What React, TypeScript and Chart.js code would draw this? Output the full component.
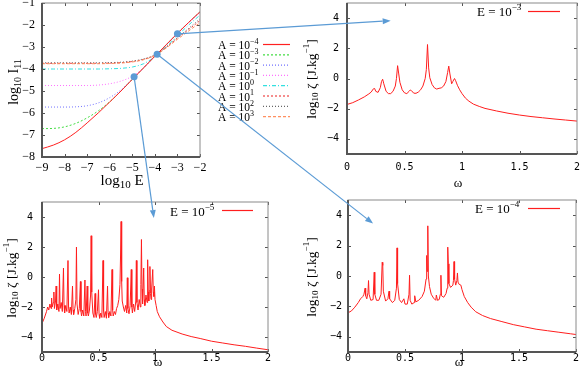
import { useEffect, useRef } from "react";
import { Chart, registerables } from "chart.js";
Chart.register(...registerables);

// ---------------- Panel (a): log10 I11 versus log10 E ----------------
const logE = [-9, -8.5, -8, -7.5, -7, -6.5, -6, -5.5, -5, -4.5, -4, -3.5, -3, -2.5, -2];
const I_Am4 = [-7.62, -7.46, -7.22, -6.88, -6.45, -5.99, -5.5, -5.0, -4.47, -3.95, -3.42, -2.9, -2.38, -1.88, -1.4];
const I_Am3 = [-6.71, -6.7, -6.63, -6.47, -6.22, -5.9, -5.49, -5.0, -4.47, -3.95, -3.42, -2.9, -2.38, -1.88, -1.4];
const I_Am2 = [-5.73, -5.73, -5.73, -5.72, -5.67, -5.54, -5.3, -4.95, -4.46, -3.95, -3.42, -2.9, -2.38, -1.88, -1.42];
const I_Am1 = [-4.75, -4.75, -4.75, -4.75, -4.75, -4.73, -4.67, -4.55, -4.33, -3.95, -3.42, -2.9, -2.39, -1.9, -1.44];
const I_A0 = [-4.0, -4.0, -4.0, -4.0, -4.0, -4.0, -3.99, -3.97, -3.91, -3.76, -3.44, -2.97, -2.48, -2.0, -1.55];
const I_A1 = [-3.74, -3.74, -3.74, -3.74, -3.74, -3.74, -3.73, -3.71, -3.66, -3.56, -3.37, -3.01, -2.6, -2.2, -1.8];
const I_A2 = [-3.72, -3.72, -3.72, -3.72, -3.72, -3.72, -3.71, -3.69, -3.64, -3.54, -3.36, -3.0, -2.57, -2.15, -1.72];
const I_A3 = [-3.76, -3.76, -3.76, -3.76, -3.76, -3.76, -3.75, -3.73, -3.68, -3.58, -3.39, -3.05, -2.65, -2.27, -1.9];
const ampSeries = [I_Am4, I_Am3, I_Am2, I_Am1, I_A0, I_A1, I_A2, I_A3];
const ampExponents = ["−4", "−3", "−2", "−1", "0", "1", "2", "3"];
const xTicksA = [-9, -8, -7, -6, -5, -4, -3, -2];
const yTicksA = [-8, -7, -6, -5, -4, -3, -2, -1];
// marked energies (blue dots) and the spectrum panels they point to
const markedE = [-3, -3.9, -4.92];
const markedI = [-2.4, -3.33, -4.35];
const markedExp = ["−3", "−4", "−5"];

// ---------------- Spectra: log10 zeta versus omega ----------------
const omegaTicks = [0, 0.5, 1, 1.5, 2];
const zetaTicks = [-4, -2, 0, 2, 4];

const spectrumE3: [number, number][] = [
  [0, -1.72], [0.05, -1.6], [0.1, -1.42], [0.15, -1.22], [0.19, -1.02], [0.21, -0.9], [0.23, -0.68], [0.24, -0.66],
  [0.25, -0.85], [0.27, -0.92], [0.29, -0.6], [0.3, -0.2], [0.31, -0.05], [0.32, -0.35], [0.34, -0.85], [0.36, -1.0],
  [0.38, -1.0], [0.4, -0.85], [0.42, -0.5], [0.43, 0.0], [0.44, 0.85], [0.45, 0.3], [0.46, -0.25], [0.48, -0.75],
  [0.5, -0.95], [0.52, -1.0], [0.54, -0.85], [0.55, -0.76], [0.56, -0.8], [0.58, -0.97], [0.6, -0.98], [0.62, -0.9],
  [0.64, -0.75], [0.66, -0.5], [0.68, 0.0], [0.69, 0.6], [0.7, 2.25], [0.71, 0.7], [0.72, 0.05], [0.74, -0.4],
  [0.76, -0.62], [0.78, -0.7], [0.8, -0.65], [0.82, -0.62], [0.84, -0.5], [0.86, -0.2], [0.875, 0.4], [0.885, 0.82],
  [0.895, 0.3], [0.91, -0.35], [0.92, -0.2], [0.935, 0.0], [0.945, -0.15], [0.96, -0.45], [0.98, -0.75], [1.0, -1.0],
  [1.03, -1.3], [1.06, -1.5], [1.1, -1.7], [1.15, -1.85], [1.2, -1.98], [1.3, -2.15], [1.4, -2.3], [1.5, -2.42],
  [1.6, -2.52], [1.7, -2.6], [1.8, -2.68], [1.9, -2.75], [2.0, -2.82],
];

const spectrumE4: [number, number][] = [
  [0, -2.42], [0.03, -2.3], [0.06, -2.05], [0.09, -1.75], [0.11, -1.5], [0.13, -1.35], [0.14, -1.2], [0.15, -0.8],
  [0.155, -1.3], [0.165, -1.5], [0.175, -1.1], [0.18, -0.3], [0.185, -1.2], [0.2, -1.6], [0.22, -1.55], [0.23, 0.25],
  [0.235, -1.2], [0.25, -1.6], [0.27, -1.6], [0.29, -1.2], [0.3, 0.9], [0.305, 0.7], [0.31, -1.0], [0.33, -1.65],
  [0.35, -1.5], [0.36, -1.0], [0.365, -1.5], [0.39, -1.75], [0.41, -1.6], [0.425, -0.8], [0.43, 1.85], [0.435, -0.5],
  [0.45, -1.55], [0.47, -1.75], [0.49, -1.5], [0.5, -1.85], [0.52, -1.85], [0.535, -1.2], [0.54, 0.05], [0.545, -1.6],
  [0.56, -1.85], [0.58, -1.75], [0.585, -1.3], [0.595, -1.7], [0.62, -1.6], [0.65, -1.35], [0.67, -1.0], [0.685, -0.2],
  [0.69, 1.35], [0.695, 0.3], [0.7, 3.3], [0.705, 0.0], [0.715, -0.7], [0.73, -1.2], [0.75, -1.45], [0.77, -1.6],
  [0.775, -1.25], [0.785, -1.6], [0.8, -1.55], [0.81, -1.2], [0.815, 0.05], [0.82, -1.3], [0.84, -1.4], [0.86, -1.15],
  [0.87, -0.8], [0.875, 1.9], [0.88, 0.8], [0.885, -0.5], [0.9, -0.75], [0.92, -0.6], [0.925, -0.3], [0.93, 0.95],
  [0.935, -0.2], [0.945, -0.6], [0.955, -0.3], [0.96, 0.2], [0.965, -0.4], [0.975, -0.55], [0.99, -0.6], [1.0, -0.9],
  [1.02, -1.35], [1.05, -1.75], [1.08, -2.05], [1.12, -2.35], [1.18, -2.6], [1.25, -2.8], [1.35, -3.0], [1.45, -3.2],
  [1.55, -3.35], [1.65, -3.5], [1.75, -3.6], [1.85, -3.7], [1.95, -3.8], [2.0, -3.85],
];

const spectrumE5: [number, number][] = [
  [0, -3.1], [0.02, -2.75], [0.04, -2.3], [0.05, -2.0], [0.06, -2.2], [0.07, -1.8], [0.08, -2.1], [0.085, -1.4],
  [0.09, -2.0], [0.1, -1.7], [0.105, -1.0], [0.11, -2.1], [0.12, -1.6], [0.125, -0.6], [0.13, -2.2], [0.14, -1.8],
  [0.15, -2.3], [0.155, 0.2], [0.16, -2.1], [0.17, -1.7], [0.18, -2.3], [0.19, 0.6], [0.195, -1.9], [0.2, -2.4],
  [0.21, -1.9], [0.22, -2.3], [0.23, 1.1], [0.235, -2.0], [0.24, -2.4], [0.25, -2.0], [0.26, -2.5], [0.27, -0.6],
  [0.275, -2.2], [0.28, -2.5], [0.29, -2.1], [0.3, -1.5], [0.305, 2.0], [0.31, -1.8], [0.32, -2.5], [0.33, -2.1],
  [0.34, -0.3], [0.345, -2.3], [0.35, -2.6], [0.36, -2.2], [0.37, -2.6], [0.38, -0.2], [0.385, -2.3], [0.39, -2.6],
  [0.4, -0.6], [0.405, -2.4], [0.41, -2.6], [0.42, -2.2], [0.43, -1.2], [0.435, 2.75], [0.44, -1.0], [0.45, -2.4],
  [0.46, -2.7], [0.47, -1.1], [0.475, -2.5], [0.48, -2.7], [0.49, -2.3], [0.5, -0.85], [0.505, -2.5], [0.51, -2.75],
  [0.52, -2.4], [0.53, -2.7], [0.54, 1.1], [0.545, -2.3], [0.55, -2.7], [0.56, -2.3], [0.57, -2.75], [0.58, -0.6],
  [0.585, -2.4], [0.59, -2.7], [0.6, -2.3], [0.61, -2.6], [0.62, 0.5], [0.625, -2.2], [0.63, -2.6], [0.64, -2.3],
  [0.65, -2.5], [0.66, -2.1], [0.67, -1.9], [0.68, -1.5], [0.69, -0.5], [0.695, 1.4], [0.7, 3.7], [0.705, -0.3],
  [0.71, -1.6], [0.72, -2.0], [0.73, -2.3], [0.74, -1.9], [0.75, -2.4], [0.755, -0.05], [0.76, -2.1], [0.77, -2.45],
  [0.78, -1.9], [0.79, 0.5], [0.795, -2.0], [0.8, -2.4], [0.81, -1.8], [0.82, -2.3], [0.83, -1.6], [0.835, 1.1],
  [0.84, -1.7], [0.85, -2.2], [0.86, -1.5], [0.87, -2.0], [0.875, -0.5], [0.88, 2.5], [0.885, -0.8], [0.89, -1.8],
  [0.9, 0.6], [0.905, -1.5], [0.91, -1.9], [0.92, -1.2], [0.93, -1.7], [0.935, 1.15], [0.94, -1.0], [0.945, -1.6],
  [0.95, -0.9], [0.955, 0.7], [0.96, -1.1], [0.965, -1.5], [0.97, -0.8], [0.98, 0.5], [0.985, -1.0], [0.99, -1.3],
  [0.995, -0.6], [1.0, -1.5], [1.01, -1.9], [1.02, -2.3], [1.04, -2.65], [1.07, -3.0], [1.1, -3.3], [1.15, -3.55],
  [1.24, -3.8], [1.32, -3.97], [1.4, -4.1], [1.5, -4.28], [1.6, -4.4], [1.7, -4.52], [1.8, -4.62], [1.9, -4.74],
  [2.0, -4.85],
];
// arrow tips inside the spectrum panels (omega, log10 zeta) for E = 1e-3, 1e-4, 1e-5
const arrowTipOmega = [0.38, 0.22, 0.99];
const arrowTipZeta = [3.83, 3.45, 3.93];

// ---------------- styling / layout ----------------
const SERIF = '"Liberation Serif", "DejaVu Serif", serif';
const MONO = '"DejaVu Sans Mono", monospace';
const ARROW = "rgb(91,155,213)";
const SPEC_RED = "rgb(255,30,30)";
const ampColors = ["#ff2020", "#44dd44", "#7070ff", "#ff70ff", "#33e0e0", "#ee4444", "#666666", "#ff9060"];
const ampDashes = [[], [2, 2], [1, 2], [1, 2], [4, 2, 1, 2], [2, 2], [1, 2], [3, 2]];

type Area = { l: number; t: number; r: number; b: number };
type Panel = { left: number; top: number; width: number; height: number; area: Area };
const PANEL_A: Panel = { left: 0, top: 0, width: 294, height: 195, area: { l: 42, t: 3, r: 200, b: 157 } };
const PANEL_B: Panel = { left: 296, top: 0, width: 285, height: 192, area: { l: 347, t: 3, r: 577, b: 154 } };
const PANEL_C: Panel = { left: 0, top: 192, width: 290, height: 176, area: { l: 42, t: 202, r: 268, b: 352 } };
const PANEL_D: Panel = { left: 296, top: 192, width: 285, height: 176, area: { l: 348, t: 200, r: 576, b: 352 } };

type Part = { t: string; s?: "sup" | "sub" };
function drawRich(ctx: CanvasRenderingContext2D, parts: Part[], x: number, y: number, size: number, align: "left" | "center") {
  const small = Math.round(size * 0.7);
  const widths = parts.map((p) => {
    ctx.font = `${p.s ? small : size}px ${SERIF}`;
    return ctx.measureText(p.t).width;
  });
  const total = widths.reduce((a, b) => a + b, 0);
  let cx = align === "center" ? x - total / 2 : x;
  ctx.textBaseline = "middle";
  ctx.textAlign = "left";
  ctx.fillStyle = "#000";
  parts.forEach((p, i) => {
    ctx.font = `${p.s ? small : size}px ${SERIF}`;
    const dy = p.s === "sup" ? -size * 0.38 : p.s === "sub" ? size * 0.3 : 0;
    ctx.fillText(p.t, cx, y + dy);
    cx += widths[i];
  });
}

type LegendRow = { parts: Part[]; color: string; dash: number[]; tx: number; ty: number; x1: number; x2: number; ly: number };
type Decor = {
  ySize: number;
  xSize: number;
  legendSize: number;
  yTitle: { parts: Part[]; x: number; y: number };
  xTitle: { parts: Part[]; x: number; y: number };
  legend: LegendRow[];
};

function decorPlugin(panel: Panel, decor: Decor) {
  return {
    id: "decor",
    afterDraw(chart: any) {
      const ctx: CanvasRenderingContext2D = chart.ctx;
      const { left, right, top, bottom } = chart.chartArea;
      const ox = panel.left, oy = panel.top;
      ctx.save();
      // inner mirrored tick marks
      ctx.strokeStyle = "#555";
      ctx.lineWidth = 1;
      ctx.beginPath();
      for (const t of chart.scales.x.ticks) {
        const px = Math.round(chart.scales.x.getPixelForValue(t.value)) + 0.5;
        ctx.moveTo(px, bottom); ctx.lineTo(px, bottom - 3);
        ctx.moveTo(px, top); ctx.lineTo(px, top + 3);
      }
      for (const t of chart.scales.y.ticks) {
        const py = Math.round(chart.scales.y.getPixelForValue(t.value)) + 0.5;
        ctx.moveTo(left, py); ctx.lineTo(left + 3, py);
        ctx.moveTo(right, py); ctx.lineTo(right - 3, py);
      }
      ctx.stroke();
      // frame
      ctx.strokeStyle = "#8a8a8a";
      ctx.lineWidth = 1;
      ctx.strokeRect(left, top, right - left, bottom - top);
      ctx.strokeStyle = "#555";
      ctx.lineWidth = 2;
      ctx.beginPath();
      ctx.moveTo(left, top); ctx.lineTo(left, bottom); ctx.lineTo(right, bottom);
      ctx.stroke();
      // titles
      ctx.save();
      ctx.translate(decor.yTitle.x - ox, decor.yTitle.y - oy);
      ctx.rotate(-Math.PI / 2);
      drawRich(ctx, decor.yTitle.parts, 0, 0, decor.ySize, "center");
      ctx.restore();
      drawRich(ctx, decor.xTitle.parts, decor.xTitle.x - ox, decor.xTitle.y - oy, decor.xSize, "center");
      // legend
      for (const row of decor.legend) {
        drawRich(ctx, row.parts, row.tx - ox, row.ty - oy, decor.legendSize, "left");
        ctx.strokeStyle = row.color;
        ctx.lineWidth = 1.2;
        ctx.setLineDash(row.dash);
        ctx.beginPath();
        ctx.moveTo(row.x1 - ox, row.ly - oy + 0.5);
        ctx.lineTo(row.x2 - ox, row.ly - oy + 0.5);
        ctx.stroke();
        ctx.setLineDash([]);
      }
      ctx.restore();
    },
  };
}

const fmtMinus = (v: any) => String(v).replace("-", "−");

function buildConfig(
  panel: Panel, datasets: any[], xr: [number, number], yr: [number, number], xt: number[], yt: number[],
  font: any, xPad: number, yPad: number, decor: Decor
): any {
  const yW = panel.area.l - panel.left;
  const padTop = panel.area.t - panel.top;
  const padRight = panel.left + panel.width - panel.area.r;
  const xH = panel.top + panel.height - panel.area.b;
  return {
    type: "line",
    data: { datasets },
    options: {
      responsive: false,
      animation: false,
      devicePixelRatio: 1,
      events: [],
      layout: { padding: { left: 0, top: padTop, right: padRight, bottom: 0 } },
      plugins: { legend: { display: false }, tooltip: { enabled: false }, title: { display: false } },
      elements: { point: { radius: 0 } },
      scales: {
        x: {
          type: "linear", min: xr[0], max: xr[1],
          grid: { display: false, drawTicks: false, tickLength: 0 }, border: { display: false },
          afterBuildTicks: (s: any) => { s.ticks = xt.map((v) => ({ value: v })); },
          afterFit: (s: any) => { s.height = xH; s.paddingLeft = 0; s.paddingRight = 0; },
          ticks: { font, color: "#000", padding: xPad, maxRotation: 0, autoSkip: false, callback: fmtMinus },
        },
        y: {
          type: "linear", min: yr[0], max: yr[1],
          grid: { display: false, drawTicks: false, tickLength: 0 }, border: { display: false },
          afterBuildTicks: (s: any) => { s.ticks = yt.map((v) => ({ value: v })); },
          afterFit: (s: any) => { s.width = yW; s.paddingTop = 0; s.paddingBottom = 0; },
          ticks: { font, color: "#000", padding: yPad, autoSkip: false, callback: fmtMinus },
        },
      },
    },
    plugins: [decorPlugin(panel, decor)],
  };
}

const zetaTitle: Part[] = [{ t: "log" }, { t: "10", s: "sub" }, { t: " ζ [J.kg" }, { t: "−1", s: "sup" }, { t: "]" }];
const omegaTitle: Part[] = [{ t: "ω" }];
const ePart = (exp: string): Part[] => [{ t: "E = 10" }, { t: exp, s: "sup" }];

function spectrumConfig(panel: Panel, data: [number, number][], exp: string, yTitle: [number, number], xTitle: [number, number], leg: [number, number, number, number, number], xPad: number, yPad: number) {
  const ds = [{
    data: data.map(([x, y]) => ({ x, y })),
    borderColor: SPEC_RED, borderWidth: 1, pointRadius: 0, tension: 0, fill: false,
  }];
  const decor: Decor = {
    ySize: 13.5,
    xSize: 13,
    legendSize: 13,
    yTitle: { parts: zetaTitle, x: yTitle[0], y: yTitle[1] },
    xTitle: { parts: omegaTitle, x: xTitle[0], y: xTitle[1] },
    legend: [{ parts: ePart(exp), color: SPEC_RED, dash: [], tx: leg[0], ty: leg[1], x1: leg[2], x2: leg[3], ly: leg[4] }],
  };
  return buildConfig(panel, ds, [0, 2], [-5, 5], omegaTicks, zetaTicks, { family: MONO, size: 10 }, xPad, yPad, decor);
}

function configA() {
  const datasets = ampSeries.map((s, i) => ({
    data: logE.map((x, k) => ({ x, y: s[k] })),
    borderColor: ampColors[i], borderWidth: 1, borderDash: ampDashes[i], pointRadius: 0,
    cubicInterpolationMode: "monotone", fill: false, order: i === 0 ? 0 : ampSeries.length - i,
  }));
  const legend: LegendRow[] = ampExponents.map((e, i) => ({
    parts: [{ t: "A = 10" }, { t: e, s: "sup" }], color: ampColors[i], dash: ampDashes[i],
    tx: 218, ty: 46 + i * 10.3, x1: 263, x2: 290, ly: 44 + i * 10.3,
  }));
  const decor: Decor = {
    ySize: 14,
    xSize: 15,
    legendSize: 11.5,
    yTitle: { parts: [{ t: "log" }, { t: "10", s: "sub" }, { t: " I" }, { t: "11", s: "sub" }], x: 14, y: 82 },
    xTitle: { parts: [{ t: "log" }, { t: "10", s: "sub" }, { t: " E" }], x: 122, y: 181 },
    legend,
  };
  return buildConfig(PANEL_A, datasets, [-9, -2], [-8, -1], xTicksA, yTicksA, { family: SERIF, size: 12 }, 4, 7, decor);
}

function style(p: Panel): any {
  return { position: "absolute", left: p.left, top: p.top, width: p.width, height: p.height };
}

export default function App() {
  const refA = useRef<HTMLCanvasElement>(null);
  const refB = useRef<HTMLCanvasElement>(null);
  const refC = useRef<HTMLCanvasElement>(null);
  const refD = useRef<HTMLCanvasElement>(null);
  const refO = useRef<HTMLCanvasElement>(null);

  useEffect(() => {
    const a = new Chart(refA.current!, configA());
    const b = new Chart(refB.current!, spectrumConfig(PANEL_B, spectrumE3, markedExp[0], [312, 79], [458, 184], [477, 13, 528, 560, 11], 7, 8));
    const d = new Chart(refD.current!, spectrumConfig(PANEL_D, spectrumE4, markedExp[1], [312, 277], [459, 363], [475, 210, 528, 560, 208], 0, 6));
    const c = new Chart(refC.current!, spectrumConfig(PANEL_C, spectrumE5, markedExp[2], [12, 278], [158, 363], [170, 213, 222, 253, 210], 0, 9));

    const ctx = refO.current!.getContext("2d")!;
    ctx.clearRect(0, 0, 581, 368);
    const targets: [Chart, Panel][] = [[b, PANEL_B], [d, PANEL_D], [c, PANEL_C]];
    const pts = markedE.map((e, i) => ({
      x: PANEL_A.left + a.scales.x.getPixelForValue(e),
      y: PANEL_A.top + a.scales.y.getPixelForValue(markedI[i]),
    }));
    ctx.strokeStyle = ARROW;
    ctx.fillStyle = ARROW;
    ctx.lineWidth = 1.2;
    pts.forEach((p, i) => {
      const [ch, pan] = targets[i];
      const tx = pan.left + ch.scales.x.getPixelForValue(arrowTipOmega[i]);
      const ty = pan.top + ch.scales.y.getPixelForValue(arrowTipZeta[i]);
      const ang = Math.atan2(ty - p.y, tx - p.x);
      const L = 8, W = 3;
      const bx = tx - L * Math.cos(ang), by = ty - L * Math.sin(ang);
      ctx.beginPath();
      ctx.moveTo(p.x, p.y);
      ctx.lineTo(bx, by);
      ctx.stroke();
      ctx.beginPath();
      ctx.moveTo(tx, ty);
      ctx.lineTo(bx - W * Math.sin(ang), by + W * Math.cos(ang));
      ctx.lineTo(bx + W * Math.sin(ang), by - W * Math.cos(ang));
      ctx.closePath();
      ctx.fill();
    });
    pts.forEach((p) => {
      ctx.beginPath();
      ctx.arc(p.x, p.y, 3.5, 0, Math.PI * 2);
      ctx.fill();
    });

    return () => { a.destroy(); b.destroy(); c.destroy(); d.destroy(); };
  }, []);

  return (
    <div style={{ position: "fixed", left: 0, top: 0, width: 581, height: 368, background: "#fff", overflow: "hidden" }}>
      <canvas ref={refA} width={PANEL_A.width} height={PANEL_A.height} style={style(PANEL_A)} />
      <canvas ref={refB} width={PANEL_B.width} height={PANEL_B.height} style={style(PANEL_B)} />
      <canvas ref={refC} width={PANEL_C.width} height={PANEL_C.height} style={style(PANEL_C)} />
      <canvas ref={refD} width={PANEL_D.width} height={PANEL_D.height} style={style(PANEL_D)} />
      <canvas ref={refO} width={581} height={368} style={{ position: "absolute", left: 0, top: 0, width: 581, height: 368, pointerEvents: "none" }} />
    </div>
  );
}
